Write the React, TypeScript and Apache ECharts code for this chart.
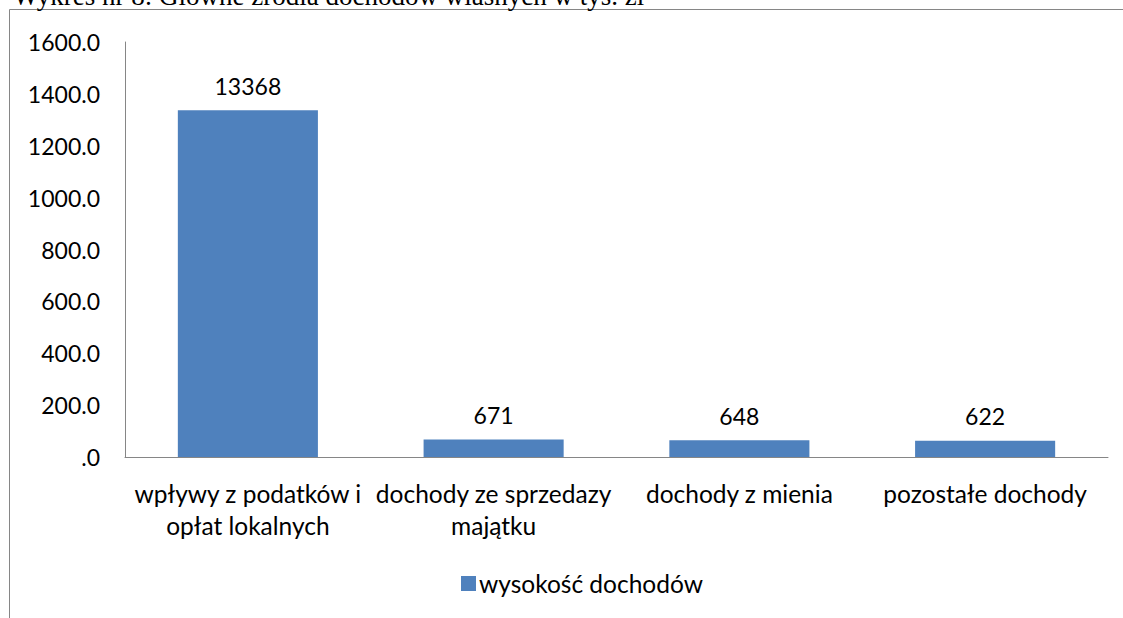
import React, { useEffect, useRef } from "react";
import * as echarts from "echarts";

const titleText = "Wykres nr 8: Główne źródła dochodów własnych w tys. zł";
const categories = [
  "wpływy z podatków i\nopłat lokalnych",
  "dochody ze sprzedazy\nmajątku",
  "dochody z mienia",
  "pozostałe dochody",
];
const seriesName = "wysokość dochodów";
const values = [1336.8, 67.1, 64.8, 62.2];
const valueLabels = ["13368", "671", "648", "622"];
const yTickLabels = [".0", "200.0", "400.0", "600.0", "800.0", "1000.0", "1200.0", "1400.0", "1600.0"];

const FONT = "Lato, 'Noto Sans', sans-serif";
const AXIS_COLOR = "#868686";
const BAR_COLOR = "#4F81BD";

export default function App() {
  const ref = useRef<HTMLDivElement>(null);
  useEffect(() => {
    if (!ref.current) return;
    const chart = echarts.init(ref.current, undefined, { renderer: "svg" });
    chart.setOption({
      animation: false,
      backgroundColor: "#ffffff",
      textStyle: { fontFamily: FONT },
      grid: { left: 125, right: 15, top: 42, bottom: 161, containLabel: false },
      xAxis: {
        type: "category",
        data: categories,
        axisLine: { show: true, lineStyle: { color: AXIS_COLOR, width: 1 } },
        axisTick: { show: false },
        axisLabel: {
          interval: 0,
          color: "#000",
          fontFamily: FONT,
          fontSize: 24.5,
          lineHeight: 32,
          margin: 20,
        },
        splitLine: { show: false },
      },
      yAxis: {
        type: "value",
        min: 0,
        max: 1600,
        interval: 200,
        axisLine: { show: true, lineStyle: { color: AXIS_COLOR, width: 1 } },
        axisTick: { show: false },
        splitLine: { show: false },
        axisLabel: {
          color: "#000",
          fontFamily: FONT,
          fontSize: 23,
          margin: 25,
          formatter: (v: number) => yTickLabels[Math.round(v / 200)] ?? String(v),
        },
      },
      legend: {
        show: true,
        left: 456,
        top: 566,
        itemWidth: 15,
        itemHeight: 15,
        itemGap: 10,
        icon: "rect",
        textStyle: { color: "#000", fontFamily: FONT, fontSize: 24.5, padding: [0, 0, 0, -2] },
        data: [seriesName],
      },
      series: [
        {
          name: seriesName,
          type: "bar",
          data: values,
          barWidth: "57%",
          itemStyle: { color: BAR_COLOR },
          label: {
            show: true,
            position: "top",
            distance: 13,
            color: "#000",
            fontFamily: FONT,
            fontSize: 23,
            formatter: (p: any) => valueLabels[p.dataIndex],
          },
        },
      ],
      graphic: [
        {
          type: "line",
          shape: { x1: 9.5, y1: 9.5, x2: 9.5, y2: 618 },
          style: { stroke: AXIS_COLOR, lineWidth: 1 },
        },
        {
          type: "line",
          shape: { x1: 9.5, y1: 9.5, x2: 1123, y2: 9.5 },
          style: { stroke: AXIS_COLOR, lineWidth: 1 },
        },
        {
          type: "text",
          x: 13,
          y: -4,
          style: {
            text: titleText,
            font: "27px 'Liberation Serif', 'DejaVu Serif', serif",
            fill: "#000",
            textAlign: "left",
            verticalAlign: "middle",
          },
        },
      ],
    });
    return () => chart.dispose();
  }, []);
  return (
    <div
      ref={ref}
      style={{ position: "fixed", left: 0, top: 0, width: 1123, height: 618, background: "#fff" }}
    />
  );
}
